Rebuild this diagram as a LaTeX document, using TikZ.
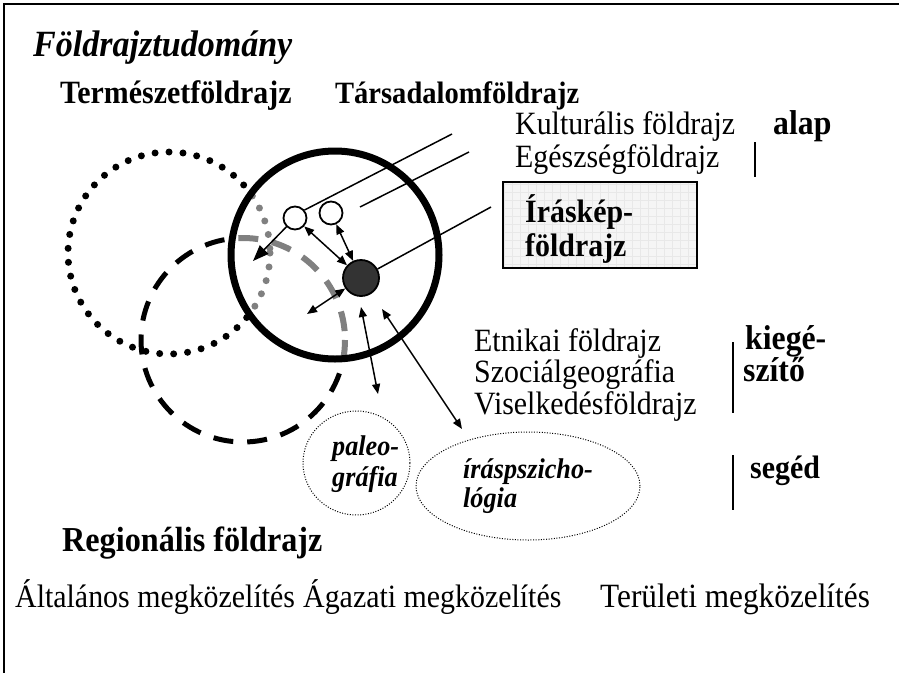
\documentclass[tikz,border=0pt]{standalone}
\usepackage{fontspec}
\setmainfont{Liberation Serif}[FakeStretch=0.92]
\usetikzlibrary{arrows.meta,shapes.geometric}
\begin{document}
\begin{tikzpicture}[x=1pt,y=-1pt,
  txt/.style={anchor=base west, inner sep=0pt, font=\fontsize{32.5}{36}\selectfont},
  btxt/.style={anchor=base west, inner sep=0pt, font=\fontsize{32.5}{36}\selectfont\bfseries},
  bigb/.style={anchor=base west, inner sep=0pt, font=\fontsize{34.5}{38}\selectfont\bfseries},
  bitxt/.style={anchor=base west, inner sep=0pt, font=\fontsize{28.5}{32}\selectfont\bfseries\itshape},
  thinline/.style={line width=1.5pt},
  dbl/.style={line width=1.5pt, {Triangle[length=10pt,width=8pt]}-{Triangle[length=10pt,width=8pt]}},
  vbar/.style={line width=2pt},
  dotc/.style={line width=7pt, line cap=round, dash pattern=on 0pt off 14pt},
  dashc/.style={line width=5pt, dash pattern=on 20pt off 14pt},
  smallc/.style={circle, draw, fill=white, line width=1.8pt, minimum size=23pt, inner sep=0pt},
  fineell/.style={ellipse, draw, line width=1pt, dash pattern=on 1pt off 1.6pt, inner sep=0pt},
]
\useasboundingbox (0,0) rectangle (899,673);
\draw[line width=2.2pt] (899,4) -- (4,4) -- (4,673);

% big circles
\coordinate (Tc) at (335,255);
\coordinate (Nc) at (169,253);
\coordinate (Rc) at (243,340);
\draw[dotc] (Nc) circle[radius=101];
\draw[dashc] (Rc) circle[radius=102];
\fill[white] (Tc) circle[radius=104];
\begin{scope}
  \clip (Tc) circle[radius=104];
  \draw[dotc, gray] (Nc) circle[radius=101];
  \draw[dashc, gray, line width=6pt] (Rc) circle[radius=102];
\end{scope}
\draw[line width=7pt] (Tc) circle[radius=104];

% small circles
\node[smallc] (c1) at (295,218) {};
\node[smallc] (c2) at (331,213) {};
\node[circle, draw, fill=black!80, line width=1.8pt, minimum size=36pt, inner sep=0pt] (cd) at (361,278) {};

% lines to labels
\coordinate (k1) at (452,134);
\coordinate (k2a) at (360,207);
\coordinate (k2b) at (469,152);
\coordinate (k3) at (491,207);
\draw[thinline] (c1.40) -- (k1);
\draw[thinline] (k2a) -- (k2b);
\draw[thinline] (cd) -- (k3);

% arrows
\coordinate (a0) at (253,261);
\coordinate (a1) at (307,314);
\coordinate (p1) at (361,307);
\coordinate (p2) at (378,394);
\coordinate (q1) at (382,309);
\coordinate (q2) at (462,429);
\draw[line width=1.5pt, -{Triangle[length=16pt,width=12pt]}] (c1) -- (a0);
\draw[dbl] (c1) -- (cd);
\draw[dbl] (c2) -- (cd);
\draw[dbl] (cd) -- (a1);
\draw[dbl] (p1) -- (p2);
\draw[dbl] (q1) -- (q2);

% box
\node[fill=gray!8, minimum width=194pt, minimum height=86pt, inner sep=0pt] (box) at (600,225) {};
\begin{scope}
  \clip (box.south west) rectangle (box.north east);
  \draw[gray!18, line width=0.4pt, step=8pt] (box.south west) grid (box.north east);
\end{scope}
\draw[line width=1.5pt] (box.south west) rectangle (box.north east);
\node[btxt] (ik1) at (525,222) {Íráskép-};
\node[btxt] (ik2) at (525,256) {földrajz};

% ellipses
\node[fineell, minimum width=107pt, minimum height=104pt] (pal) at (356.5,463) {};
\node[fineell, minimum width=224pt, minimum height=108pt] (irp) at (528,486) {};
\node[bitxt] (pal1) at (332,455) {paleo-};
\node[bitxt] (pal2) at (332,486) {gráfia};
\node[bitxt] (irp1) at (463,478) {íráspszicho-};
\node[bitxt] (irp2) at (463,507) {lógia};

% texts
\node[anchor=base west, inner sep=0pt, font=\fontsize{37}{42}\selectfont\bfseries\itshape] (title) at (33,56) {Földrajztudomány};
\node[btxt] (term) at (60,103) {Természetföldrajz};
\node[btxt, font=\fontsize{31}{36}\selectfont\bfseries] (tars) at (335,103) {Társadalomföldrajz};
\node[txt] (kult) at (515,134) {Kulturális földrajz};
\node[bigb] (alap) at (773,134) {alap};
\node[txt] (eg) at (515,167) {Egészségföldrajz};
\draw[vbar] (755,142) -- (755,177);

\node[txt] (etn) at (474,351) {Etnikai földrajz};
\node[txt] (szoc) at (474,382) {Szociálgeográfia};
\node[txt] (visel) at (474,414) {Viselkedésföldrajz};
\node[bigb] (kieg1) at (745,349) {kiegé-};
\node[bigb] (kieg2) at (743,381) {szítő};
\draw[vbar] (733,342) -- (733,413);
\node[btxt] (seged) at (750,478) {segéd};
\draw[vbar] (733,455) -- (733,510);

\node[btxt, font=\fontsize{35}{40}\selectfont\bfseries] (reg) at (62,551) {Regionális földrajz};

\node[txt] (alt) at (15,607) {Általános megközelítés};
\node[txt] (aga) at (303,607) {Ágazati megközelítés};
\node[txt, font=\fontsize{34}{38}\selectfont] (ter) at (600,607) {Területi megközelítés};
\end{tikzpicture}
\end{document}
